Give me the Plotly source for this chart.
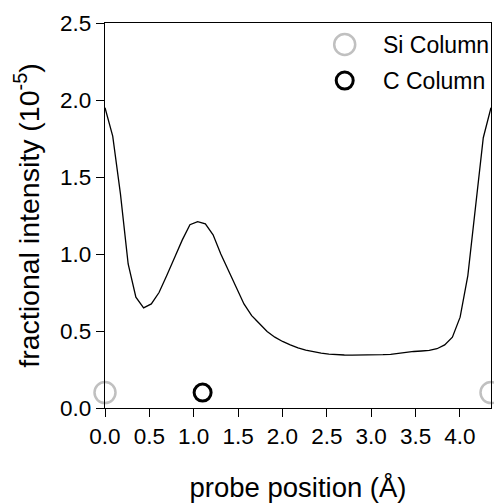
import plotly.graph_objects as go

# probe positions (Å)
probe_x = [0.000, 0.087, 0.174, 0.261, 0.348, 0.435, 0.522, 0.609, 0.696, 0.783,
           0.870, 0.957, 1.044, 1.131, 1.218, 1.305, 1.392, 1.479, 1.566, 1.653,
           1.740, 1.827, 1.914, 2.001, 2.088, 2.175, 2.262, 2.349, 2.436, 2.523,
           2.610, 2.697, 2.784, 2.871, 2.958, 3.045, 3.132, 3.219, 3.306, 3.393,
           3.480, 3.567, 3.654, 3.741, 3.828, 3.915, 4.002, 4.089, 4.176, 4.263,
           4.350]
# fractional intensity (1e-5)
intensity = [1.95, 1.766, 1.39, 0.935, 0.72, 0.65, 0.676, 0.75, 0.86, 0.98,
             1.09, 1.19, 1.21, 1.196, 1.125, 1.0, 0.89, 0.78, 0.676, 0.60,
             0.547, 0.497, 0.46, 0.432, 0.41, 0.39, 0.376, 0.365, 0.356, 0.35,
             0.346, 0.344, 0.343, 0.343, 0.343, 0.344, 0.346, 0.348, 0.354, 0.363,
             0.367, 0.37, 0.374, 0.385, 0.41, 0.46, 0.59, 0.86, 1.32, 1.755,
             1.95]

si_x = [0.0, 4.35]
si_y = [0.1, 0.1]
c_x = [1.1]
c_y = [0.1]

x_ticks = [0.0, 0.5, 1.0, 1.5, 2.0, 2.5, 3.0, 3.5, 4.0]
y_ticks = [0.0, 0.5, 1.0, 1.5, 2.0, 2.5]

FONT = "Liberation Sans, Arial, sans-serif"
SI_COLOR = "#c0c0c0"

fig = go.Figure()
fig.add_trace(go.Scatter(x=probe_x, y=intensity, mode="lines",
                         line=dict(color="black", width=1.3),
                         showlegend=False, cliponaxis=False))
fig.add_trace(go.Scatter(x=si_x, y=si_y, mode="markers", name="Si Column",
                         marker=dict(symbol="circle-open", size=21,
                                     color=SI_COLOR, line=dict(width=2.5, color=SI_COLOR)),
                         showlegend=False, cliponaxis=False))
fig.add_trace(go.Scatter(x=c_x, y=c_y, mode="markers", name="C Column",
                         marker=dict(symbol="circle-open", size=17,
                                     color="black", line=dict(width=3, color="black")),
                         showlegend=False, cliponaxis=False))

# manual legend (larger symbols than plotly legend allows)
legend_items = [("Si Column", SI_COLOR, 21, 2.5, 0.944),
                ("C Column", "black", 17, 3, 0.8505)]
shapes = []
annotations = []
for label, col, sz, lw, yp in legend_items:
    r = sz / 2
    shapes.append(dict(type="circle", xref="paper", yref="paper",
                       xsizemode="pixel", ysizemode="pixel",
                       xanchor=0.621, yanchor=yp,
                       x0=-r, x1=r, y0=-r, y1=r,
                       line=dict(color=col, width=lw)))
    annotations.append(dict(text=label, xref="paper", yref="paper",
                            x=0.714, y=yp, xanchor="left", yanchor="middle",
                            showarrow=False, font=dict(size=23, color="black", family=FONT)))

fig.update_layout(
    width=502, height=503,
    margin=dict(l=97, r=19, t=14.5, b=103),
    plot_bgcolor="white", paper_bgcolor="white",
    font=dict(family=FONT, color="black"),
    shapes=shapes, annotations=annotations,
)
fig.update_xaxes(range=[0, 4.35], tickvals=x_ticks, ticktext=[f"{v:.1f}" for v in x_ticks],
                 ticks="outside", ticklen=8, tickwidth=1.2, tickcolor="black",
                 showline=True, linecolor="black", linewidth=1.2, mirror=True,
                 showgrid=False, zeroline=False, automargin=False,
                 tickfont=dict(size=22.5, family=FONT),
                 title=dict(text="probe position (Å)", font=dict(size=27.5, family=FONT), standoff=29))
fig.update_yaxes(range=[0, 2.5], tickvals=y_ticks, ticktext=[f"{v:.1f}" for v in y_ticks],
                 ticks="outside", ticklen=8, tickwidth=1.2, tickcolor="black",
                 showline=True, linecolor="black", linewidth=1.2, mirror=True,
                 showgrid=False, zeroline=False, automargin=False,
                 tickfont=dict(size=22.5, family=FONT),
                 title=dict(text="fractional intensity (10<sup>-5</sup>)", font=dict(size=28.5, family=FONT), standoff=12))

fig.write_html("out.html")
